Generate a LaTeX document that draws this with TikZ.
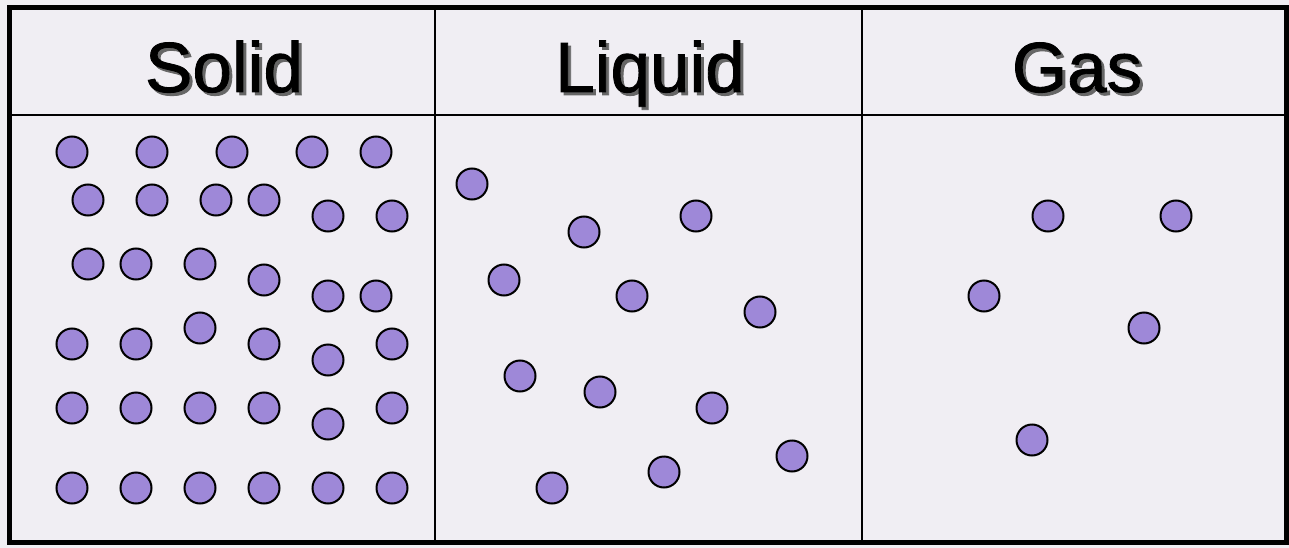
\documentclass[tikz,border=0pt]{standalone}
\usepackage{fontspec}
\setmainfont{Liberation Sans}
\newfontfamily\hfont[FakeBold=1.2]{Liberation Sans}
\newcommand{\shadowed}[1]{\rlap{\hspace{3pt}\raisebox{-3pt}{\color{black!60}#1}}#1}
\begin{document}
\begin{tikzpicture}[x=1pt,y=-1pt,
  particle/.style={circle,draw=black,line width=2pt,fill=partfill,minimum size=31pt,inner sep=0pt},
  header/.style={font=\hfont\fontsize{71}{71}\selectfont,text=black,inner sep=0pt,anchor=base}]
\definecolor{partfill}{HTML}{9E88D8}
\definecolor{bgcol}{HTML}{F0EEF3}
\fill[bgcol] (0,0) rectangle (1289,548);
\useasboundingbox (0,0) rectangle (1289,548);
% grid lines
\coordinate (c1t) at (435,8); \coordinate (c1b) at (435,542);
\coordinate (c2t) at (862,8); \coordinate (c2b) at (862,542);
\coordinate (hl) at (9,115); \coordinate (hr) at (1286,115);
\draw[line width=2pt] (c1t) -- (c1b);
\draw[line width=2pt] (c2t) -- (c2b);
\draw[line width=2pt] (hl) -- (hr);
\draw[line width=5pt] (9,8) rectangle (1286,542);
% headers
\node[header] (hs) at (224,92) {\shadowed{Solid}};
\node[header] (hlq) at (650,92) {\shadowed{Liquid}};
\node[header] (hg) at (1077,92) {\shadowed{Gas}};
% solid
\foreach \p [count=\i] in {(72,152),(152,152),(232,152),(312,152),(376,152),
  (88,200),(152,200),(216,200),(264,200),(328,216),(392,216),
  (88,264),(136,264),(200,264),(264,280),(328,296),(376,296),
  (72,344),(136,344),(200,328),(264,344),(328,360),(392,344),
  (72,408),(136,408),(200,408),(264,408),(328,424),(392,408),
  (72,488),(136,488),(200,488),(264,488),(328,488),(392,488)}
  \node[particle] (s\i) at \p {};
% liquid
\foreach \p [count=\i] in {(472,184),(584,232),(696,216),(504,280),(632,296),(760,312),
  (520,376),(600,392),(712,408),(792,456),(664,472),(552,488)}
  \node[particle] (l\i) at \p {};
% gas
\foreach \p [count=\i] in {(1048,216),(1176,216),(984,296),(1144,328),(1032,440)}
  \node[particle] (g\i) at \p {};
\end{tikzpicture}
\end{document}
